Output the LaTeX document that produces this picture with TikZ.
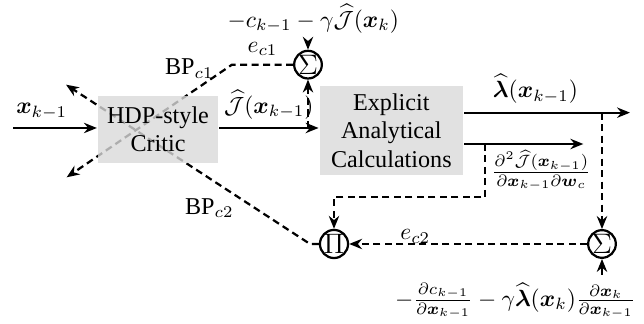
\documentclass[tikz,border=0pt]{standalone}
\usepackage{amsmath,amssymb}
\usepackage{fontspec}
\setmainfont{Liberation Serif}
\usetikzlibrary{arrows.meta,backgrounds}

\begin{document}
\begin{tikzpicture}[font=\fontsize{10.3pt}{12pt}\selectfont,>={Stealth[length=5.5pt,width=4.4pt]},line width=0.95pt,
    blk/.style={fill=gray!30,fill opacity=0.8,text opacity=1,align=center,inner sep=0pt},
    opnode/.style={draw,circle,fill=white,minimum size=0.41cm,inner sep=0pt,font=\large},
    dsh/.style={line width=0.95pt,dash pattern=on 3pt off 1.9pt}]
    \useasboundingbox (0,0) rectangle (9.66,4.86);
    \node[blk,minimum width=1.8cm,minimum height=1.0cm] (hdp) at (2.37,2.92) {HDP-style\\Critic};
    \node[blk,minimum width=2.15cm,minimum height=1.34cm] (exp) at (5.87,2.90) {Explicit\\Analytical\\Calculations};
    \node[opnode] (s1) at (4.62,3.89) {$\Sigma$};
    \node[opnode] (pr) at (5.01,1.20) {$\Pi$};
    \node[opnode] (s2) at (9.03,1.20) {$\Sigma$};
    \coordinate (xin) at (0.2,2.94);
    \coordinate (lamout) at (9.45,3.17);
    \coordinate (dout) at (8.75,2.70);
    \coordinate (bend1) at (3.48,3.89);
    \coordinate (bend2) at (4.65,1.20);
    \coordinate (tip1) at (1.0,2.2);
    \coordinate (tip2) at (0.99,3.59);
    \coordinate (bin) at (9.03,0.74);
    \node (toptxt) at (4.70,4.58) {$-c_{k-1}-\gamma\widehat{\mathcal{J}}(\boldsymbol{x}_k)$};
    \node (bottxt) at (7.73,0.35) {$-\frac{\partial c_{k-1}}{\partial\boldsymbol{x}_{k-1}}-\gamma\widehat{\boldsymbol{\lambda}}(\boldsymbol{x}_k)\frac{\partial\boldsymbol{x}_k}{\partial\boldsymbol{x}_{k-1}}$};
    \node (dlabel) at (8.12,2.30) {$\frac{\partial^2\widehat{\mathcal{J}}(\boldsymbol{x}_{k-1})}{\partial\boldsymbol{x}_{k-1}\partial\boldsymbol{w}_c}$};
    \node (bpone) at (2.84,3.83) {BP$_{c1}$};
    \node (bptwo) at (3.14,1.74) {BP$_{c2}$};
    \node (ectwo) at (6.23,1.31) {$e_{c2}$};
    % forward signals
    \draw[->] (xin) -- node[above,pos=0.34] {$\boldsymbol{x}_{k-1}$} (xin -| hdp.west);
    \draw[->] (xin -| hdp.east) -- node[above] {$\widehat{\mathcal{J}}(\boldsymbol{x}_{k-1})$} (xin -| exp.west);
    \draw[->] (lamout -| exp.east) -- node[above,pos=0.43] {$\widehat{\boldsymbol{\lambda}}(\boldsymbol{x}_{k-1})$} (lamout);
    \draw[->] (dout -| exp.east) -- (dout);
    \draw[->] (toptxt.south -| s1) -- (s1);
    \draw[->] (bin) -- (s2);
    % error paths
    \draw[->,dsh] (s1 |- xin) -- (s1);
    \draw[->,dsh] (s2 |- lamout) -- (s2);
    \draw[->,dsh] (7.28,2.70) -- (7.28,1.90) -| (pr);
    \draw[->,dsh] (s2) -- (pr);
    \begin{scope}[on background layer]
      \draw[->,dsh] (s1) -- node[above] {$e_{c1}$} (bend1) -- (tip1);
      \draw[->,dsh] (pr) -- (bend2) -- (tip2);
    \end{scope}
\end{tikzpicture}
\end{document}
